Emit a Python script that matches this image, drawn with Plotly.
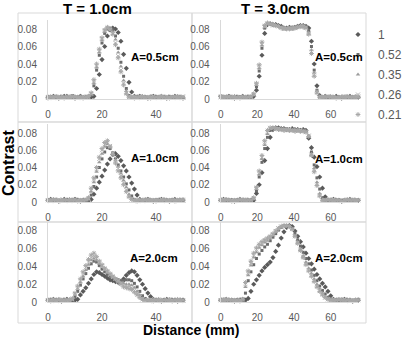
import plotly.graph_objects as go

# ---------------- data ----------------
series_names = ["1", "0.52", "0.35", "0.26", "0.21"]
col_titles = ["T = 1.0cm", "T = 3.0cm"]
row_labels = ["A=0.5cm", "A=1.0cm", "A=2.0cm"]
y_tickvals = [0, 0.02, 0.04, 0.06, 0.08]
y_ticktext = ["0", "0.02", "0.04", "0.06", "0.08"]
x_ticks_left = [0, 20, 40]
x_ticks_right = [0, 20, 40, 60]

dist_left = [0,1,2,3,4,5,6,7,8,9,10,11,12,13,14,15,16,17,18,19,20,21,22,23,24,25,
             26,27,28,29,30,31,32,33,34,35,36,37,38,39,40,41,42,43,44,45,46,47,48,49,50]
dist_right = [0,1.5,3,4.5,6,7.5,9,10.5,12,13.5,15,16.5,18,19.5,21,22.5,24,25.5,27,28.5,
              30,31.5,33,34.5,36,37.5,39,40.5,42,43.5,45,46.5,48,49.5,51,52.5,54,55.5,57,
              58.5,60,61.5,63,64.5,66,67.5,69,70.5,72,73.5,75]

# T = 1.0cm, A = 0.5cm
t1a05_d = [0.002,0.002,0.003,0.002,0.001,0.002,0.003,0.003,0.002,0.002,0.001,0.002,0.003,0.002,0.002,0.003,0.002,
 0.003,0.012,0.028,0.045,0.060,0.072,0.079,0.081,0.080,0.076,0.066,0.051,0.035,0.019,0.008,0.003,
 0.002,0.003,0.002,0.002,0.001,0.002,0.003,0.002,0.002,0.003,0.002,0.001,0.002,0.002,0.003,0.002,0.002,0.001]
t1a05_s = [0.003,0.002,0.002,0.001,0.002,0.003,0.002,0.002,0.003,0.004,0.002,0.002,0.003,0.002,0.001,0.002,
 0.004,0.015,0.033,0.050,0.064,0.075,0.080,0.081,0.079,0.072,0.058,0.042,0.026,0.012,0.004,
 0.002,0.002,0.003,0.002,0.001,0.002,0.002,0.003,0.002,0.003,0.002,0.002,0.001,0.002,0.003,0.002,0.002,0.003,0.002,0.002]
t1a05_t = [0.002,0.003,0.002,0.002,0.001,0.002,0.002,0.003,0.002,0.002,0.003,0.002,0.001,0.002,0.002,0.003,
 0.005,0.018,0.036,0.053,0.067,0.077,0.081,0.080,0.077,0.068,0.053,0.037,0.021,0.009,0.003,
 0.002,0.003,0.002,0.002,0.002,0.001,0.002,0.003,0.002,0.002,0.002,0.003,0.002,0.001,0.002,0.002,0.003,0.002,0.002,0.002]
t1a05_x = [0.002,0.002,0.001,0.002,0.003,0.002,0.002,0.002,0.003,0.002,0.002,0.001,0.002,0.003,0.002,0.002,
 0.006,0.020,0.038,0.055,0.069,0.078,0.081,0.079,0.075,0.064,0.049,0.033,0.018,0.007,0.002,
 0.002,0.002,0.001,0.003,0.002,0.002,0.002,0.002,0.003,0.002,0.001,0.002,0.002,0.003,0.002,0.002,0.002,0.001,0.002,0.003]
t1a05_a = [0.001,0.002,0.002,0.003,0.002,0.002,0.001,0.002,0.002,0.003,0.002,0.002,0.002,0.001,0.002,0.003,
 0.007,0.022,0.040,0.057,0.070,0.079,0.082,0.080,0.074,0.062,0.047,0.031,0.016,0.006,0.002,
 0.002,0.001,0.002,0.002,0.003,0.002,0.002,0.001,0.002,0.002,0.002,0.003,0.002,0.002,0.001,0.002,0.002,0.003,0.002,0.002]

# T = 1.0cm, A = 1.0cm
t1a10_d = [0.002,0.003,0.002,0.002,0.001,0.002,0.003,0.002,0.002,0.002,0.003,0.002,0.001,0.002,0.002,0.002,
 0.003,0.009,0.016,0.023,0.030,0.037,0.044,0.050,0.055,0.056,0.053,0.048,0.042,0.036,0.029,0.022,0.015,0.008,0.003,
 0.002,0.002,0.003,0.002,0.001,0.002,0.002,0.003,0.002,0.002,0.001,0.002,0.003,0.002,0.002,0.002]
t1a10_s = [0.002,0.002,0.003,0.002,0.002,0.001,0.002,0.003,0.002,0.002,0.002,0.003,0.002,0.001,0.002,
 0.002,0.008,0.018,0.029,0.040,0.050,0.058,0.063,0.062,0.057,0.050,0.043,0.036,0.029,0.021,0.014,0.007,0.003,
 0.002,0.002,0.001,0.002,0.003,0.002,0.002,0.002,0.003,0.002,0.001,0.002,0.002,0.003,0.002,0.002,0.002,0.001]
t1a10_t = [0.002,0.002,0.002,0.003,0.002,0.001,0.002,0.002,0.003,0.002,0.002,0.002,0.001,0.002,0.003,
 0.003,0.012,0.023,0.035,0.046,0.056,0.064,0.067,0.064,0.057,0.049,0.041,0.033,0.025,0.017,0.009,0.004,
 0.002,0.002,0.003,0.002,0.002,0.001,0.002,0.002,0.003,0.002,0.002,0.002,0.001,0.002,0.002,0.003,0.002,0.002,0.002]
t1a10_x = [0.002,0.001,0.002,0.002,0.003,0.002,0.002,0.002,0.001,0.002,0.003,0.002,0.002,0.002,0.003,
 0.004,0.014,0.026,0.038,0.050,0.060,0.067,0.069,0.065,0.057,0.048,0.039,0.030,0.022,0.014,0.007,0.003,
 0.002,0.002,0.002,0.001,0.002,0.003,0.002,0.002,0.002,0.002,0.003,0.002,0.001,0.002,0.002,0.002,0.003,0.002,0.002]
t1a10_a = [0.002,0.002,0.003,0.002,0.001,0.002,0.002,0.002,0.003,0.002,0.002,0.001,0.002,0.002,0.002,
 0.005,0.016,0.028,0.040,0.052,0.062,0.069,0.071,0.064,0.055,0.045,0.036,0.028,0.020,0.012,0.006,0.003,
 0.002,0.001,0.002,0.002,0.003,0.002,0.002,0.002,0.001,0.002,0.002,0.003,0.002,0.002,0.002,0.001,0.002,0.002,0.003]

# T = 1.0cm, A = 2.0cm
t1a20_d = [0.002,0.002,0.003,0.002,0.002,0.001,0.002,0.003,0.002,0.002,0.002,
 0.003,0.008,0.012,0.016,0.021,0.026,0.031,0.034,0.033,0.031,0.029,0.027,0.025,0.024,0.023,0.022,0.023,0.026,0.030,0.033,0.035,0.034,0.030,0.025,0.020,0.015,0.010,0.006,0.003,
 0.002,0.002,0.001,0.002,0.003,0.002,0.002,0.002,0.001,0.002,0.002]
t1a20_s = [0.002,0.003,0.002,0.002,0.001,0.002,0.002,0.003,0.002,
 0.002,0.006,0.012,0.019,0.026,0.032,0.038,0.043,0.046,0.045,0.041,0.037,0.034,0.031,0.029,0.027,0.026,0.025,0.024,0.024,0.025,0.025,0.024,0.021,0.017,0.012,0.007,0.004,0.002,
 0.002,0.003,0.002,0.002,0.001,0.002,0.002,0.003,0.002,0.002,0.002,0.001,0.002]
t1a20_t = [0.002,0.002,0.003,0.002,0.002,0.002,0.001,0.002,0.003,
 0.003,0.008,0.015,0.022,0.029,0.036,0.042,0.047,0.049,0.047,0.043,0.040,0.036,0.033,0.030,0.028,0.026,0.024,0.022,0.021,0.020,0.020,0.019,0.016,0.012,0.008,0.004,0.002,
 0.002,0.002,0.003,0.002,0.001,0.002,0.002,0.002,0.003,0.002,0.002,0.001,0.002,0.002]
t1a20_x = [0.002,0.002,0.002,0.001,0.002,0.003,0.002,0.002,0.002,
 0.003,0.009,0.016,0.024,0.032,0.039,0.045,0.050,0.052,0.049,0.045,0.041,0.037,0.034,0.031,0.028,0.026,0.024,0.021,0.019,0.018,0.018,0.016,0.013,0.010,0.006,0.003,0.002,
 0.002,0.003,0.002,0.002,0.002,0.001,0.002,0.002,0.003,0.002,0.002,0.002,0.001,0.002]
t1a20_a = [0.002,0.001,0.002,0.002,0.003,0.002,0.002,0.002,0.002,
 0.004,0.010,0.018,0.026,0.034,0.041,0.048,0.053,0.055,0.051,0.046,0.042,0.038,0.035,0.032,0.029,0.026,0.023,0.020,0.017,0.016,0.015,0.014,0.011,0.008,0.005,0.003,0.002,
 0.002,0.002,0.001,0.002,0.003,0.002,0.002,0.002,0.002,0.001,0.002,0.003,0.002,0.002]

# T = 3.0cm, A = 0.5cm
t3a05_d = [0.003,0.002,0.002,0.003,0.002,0.001,0.002,0.002,0.003,0.002,0.002,0.002,
 0.003,0.010,0.026,0.050,0.075,0.085,0.086,0.085,0.085,0.084,0.083,0.081,0.081,0.082,0.081,0.082,0.083,0.084,0.084,0.083,0.081,0.066,0.040,0.015,0.004,
 0.002,0.003,0.002,0.002,0.002,0.003,0.002,0.001,0.002,0.002,0.003,0.002,0.002,0.002]
t3a05_s = [0.002,0.003,0.002,0.002,0.001,0.002,0.003,0.002,0.002,0.002,0.003,0.002,
 0.004,0.014,0.032,0.058,0.081,0.086,0.086,0.085,0.084,0.084,0.082,0.081,0.081,0.081,0.082,0.082,0.083,0.084,0.083,0.083,0.078,0.060,0.033,0.010,0.003,
 0.002,0.002,0.003,0.002,0.002,0.001,0.002,0.002,0.003,0.002,0.002,0.002,0.003,0.002]
t3a05_t = [0.002,0.002,0.003,0.002,0.002,0.002,0.001,0.002,0.003,0.002,0.002,0.002,
 0.005,0.016,0.035,0.061,0.082,0.086,0.085,0.085,0.084,0.083,0.082,0.081,0.080,0.081,0.081,0.082,0.083,0.083,0.084,0.082,0.076,0.056,0.030,0.009,0.003,
 0.002,0.003,0.002,0.002,0.001,0.002,0.002,0.003,0.002,0.002,0.002,0.002,0.003,0.002]
t3a05_x = [0.002,0.002,0.002,0.003,0.002,0.001,0.002,0.002,0.002,0.003,0.002,0.002,
 0.005,0.017,0.037,0.063,0.083,0.086,0.086,0.084,0.084,0.083,0.082,0.080,0.081,0.081,0.080,0.081,0.082,0.083,0.083,0.082,0.075,0.054,0.028,0.008,0.002,
 0.002,0.002,0.003,0.002,0.002,0.002,0.001,0.002,0.003,0.002,0.002,0.002,0.002,0.003]
t3a05_a = [0.003,0.002,0.002,0.002,0.002,0.003,0.002,0.001,0.002,0.002,0.002,0.003,
 0.006,0.018,0.039,0.065,0.084,0.087,0.086,0.085,0.084,0.083,0.081,0.081,0.080,0.080,0.081,0.081,0.082,0.083,0.082,0.081,0.074,0.052,0.026,0.007,0.002,
 0.002,0.002,0.002,0.003,0.002,0.001,0.002,0.002,0.002,0.003,0.002,0.002,0.002,0.002]

# T = 3.0cm, A = 1.0cm
t3a10_d = [0.002,0.003,0.002,0.002,0.002,0.001,0.002,0.003,0.002,0.002,0.002,0.002,
 0.002,0.010,0.020,0.034,0.048,0.062,0.075,0.084,0.086,0.086,0.085,0.085,0.084,0.084,0.085,0.084,0.084,0.083,0.084,0.083,0.074,0.063,0.052,0.041,0.029,0.016,0.006,0.002,
 0.002,0.003,0.002,0.002,0.001,0.002,0.002,0.003,0.002,0.002,0.002]
t3a10_s = [0.002,0.002,0.003,0.002,0.002,0.002,0.001,0.002,0.002,0.003,0.002,0.002,
 0.003,0.013,0.029,0.046,0.062,0.075,0.083,0.086,0.086,0.085,0.085,0.084,0.085,0.084,0.084,0.083,0.084,0.083,0.083,0.082,0.076,0.058,0.043,0.028,0.015,0.005,0.002,
 0.002,0.002,0.003,0.002,0.002,0.001,0.002,0.002,0.002,0.003,0.002,0.002]
t3a10_t = [0.002,0.002,0.002,0.003,0.002,0.002,0.001,0.002,0.003,0.002,0.002,0.002,
 0.004,0.015,0.032,0.050,0.066,0.079,0.085,0.086,0.086,0.085,0.084,0.085,0.084,0.084,0.083,0.084,0.083,0.083,0.082,0.082,0.077,0.056,0.039,0.023,0.010,0.003,
 0.002,0.002,0.003,0.002,0.002,0.002,0.001,0.002,0.002,0.003,0.002,0.002,0.002]
t3a10_x = [0.002,0.003,0.002,0.002,0.002,0.001,0.002,0.002,0.002,0.003,0.002,0.002,
 0.004,0.016,0.034,0.052,0.069,0.081,0.086,0.086,0.085,0.085,0.084,0.084,0.083,0.084,0.083,0.083,0.082,0.083,0.082,0.081,0.077,0.055,0.037,0.021,0.008,0.002,
 0.002,0.002,0.002,0.003,0.002,0.002,0.001,0.002,0.002,0.002,0.003,0.002,0.002]
t3a10_a = [0.002,0.002,0.003,0.002,0.001,0.002,0.002,0.003,0.002,0.002,0.002,0.002,
 0.005,0.017,0.036,0.054,0.071,0.083,0.086,0.086,0.085,0.084,0.084,0.083,0.084,0.083,0.083,0.082,0.083,0.082,0.082,0.081,0.076,0.054,0.035,0.019,0.007,0.002,
 0.002,0.003,0.002,0.002,0.002,0.002,0.001,0.002,0.003,0.002,0.002,0.002,0.002]

# T = 3.0cm, A = 2.0cm
t3a20_d = [0.002,0.002,0.003,0.002,0.002,0.001,0.002,0.002,0.003,0.002,
 0.004,0.012,0.020,0.025,0.030,0.035,0.039,0.042,0.045,0.050,0.057,0.064,0.072,0.079,0.084,0.086,0.085,0.080,0.074,0.068,0.062,0.055,0.049,0.043,0.037,0.031,0.026,0.021,0.017,0.012,0.007,0.003,
 0.002,0.002,0.002,0.003,0.002,0.002,0.001,0.002,0.002]
t3a20_s = [0.002,0.003,0.002,0.002,0.001,0.002,0.002,0.003,
 0.002,0.010,0.024,0.034,0.042,0.049,0.054,0.058,0.062,0.065,0.069,0.073,0.077,0.081,0.084,0.086,0.086,0.085,0.083,0.077,0.070,0.063,0.056,0.049,0.043,0.036,0.030,0.024,0.018,0.013,0.009,0.005,0.003,0.002,
 0.002,0.003,0.002,0.002,0.002,0.001,0.002,0.002,0.003]
t3a20_t = [0.002,0.002,0.002,0.003,0.002,0.002,0.001,0.002,
 0.003,0.017,0.030,0.041,0.050,0.056,0.061,0.064,0.067,0.069,0.072,0.075,0.079,0.082,0.085,0.086,0.086,0.085,0.082,0.075,0.068,0.060,0.052,0.045,0.038,0.032,0.026,0.020,0.015,0.010,0.006,0.004,0.002,0.002,
 0.002,0.002,0.003,0.002,0.002,0.002,0.001,0.002,0.002]
t3a20_x = [0.002,0.003,0.002,0.002,0.002,0.001,0.002,0.002,
 0.003,0.020,0.033,0.044,0.053,0.059,0.063,0.066,0.069,0.071,0.073,0.076,0.080,0.083,0.085,0.086,0.086,0.085,0.082,0.074,0.067,0.059,0.051,0.043,0.036,0.030,0.024,0.018,0.013,0.009,0.005,0.003,0.002,0.002,
 0.002,0.002,0.002,0.003,0.002,0.001,0.002,0.002,0.002]
t3a20_a = [0.002,0.002,0.003,0.002,0.002,0.002,0.002,0.001,
 0.003,0.022,0.035,0.046,0.055,0.061,0.065,0.068,0.070,0.072,0.074,0.077,0.080,0.083,0.085,0.086,0.086,0.085,0.082,0.074,0.066,0.058,0.050,0.042,0.035,0.029,0.023,0.017,0.012,0.008,0.005,0.003,0.002,0.002,
 0.002,0.003,0.002,0.002,0.002,0.002,0.001,0.002,0.002]

panels = [
    (0, 0, dist_left,  [t1a05_d, t1a05_s, t1a05_t, t1a05_x, t1a05_a]),
    (0, 1, dist_right, [t3a05_d, t3a05_s, t3a05_t, t3a05_x, t3a05_a]),
    (1, 0, dist_left,  [t1a10_d, t1a10_s, t1a10_t, t1a10_x, t1a10_a]),
    (1, 1, dist_right, [t3a10_d, t3a10_s, t3a10_t, t3a10_x, t3a10_a]),
    (2, 0, dist_left,  [t1a20_d, t1a20_s, t1a20_t, t1a20_x, t1a20_a]),
    (2, 1, dist_right, [t3a20_d, t3a20_s, t3a20_t, t3a20_x, t3a20_a]),
]
for _, _, xs, ss in panels:
    for s in ss:
        assert len(s) == len(xs), (len(s), len(xs))

# ---------------- styling ----------------
W, H = 415, 339
def px(p): return p / W
def py(p): return 1 - p / H

FONT = "Liberation Sans, Arial, sans-serif"
TICK_COLOR = "#595959"
BORDER = "#d9d9d9"

styles = [
    dict(symbol="diamond", size=4, color="#5a5a5a"),
    dict(symbol="square", size=3, color="#6c6c6c"),
    dict(symbol="triangle-up", size=4, color="#9c9c9c"),
    dict(symbol="x-thin", size=4, color="#b4b4b4", line=dict(width=1, color="#b4b4b4")),
    dict(symbol="asterisk", size=4, color="#a8a8a8", line=dict(width=1, color="#a8a8a8")),
]

col_dom = [(48, 185.7), (220.7, 358.2)]
col_rng = [[0, 51], [0, 75]]
row_dom = [(20.25, 99), (124.4, 202), (222.1, 302)]

fig = go.Figure()
layout = dict(
    width=W, height=H, margin=dict(l=0, r=0, t=0, b=0, autoexpand=False),
    paper_bgcolor="white", plot_bgcolor="white",
    font=dict(family=FONT, color=TICK_COLOR, size=10),
    showlegend=True,
    legend=dict(x=px(338), y=py(20), xanchor="left", yanchor="top",
                font=dict(size=12, color=TICK_COLOR, family=FONT),
                tracegroupgap=1, itemsizing="trace", bgcolor="rgba(0,0,0,0)"),
)

shapes = []
annotations = []
for k, (r, c, xs, ss) in enumerate(panels):
    n = k + 1
    xa = "x" if n == 1 else f"x{n}"
    ya = "y" if n == 1 else f"y{n}"
    xd = col_dom[c]
    yd = row_dom[r]
    layout[f"xaxis{'' if n == 1 else n}"] = dict(
        domain=[px(xd[0]), px(xd[1])], range=col_rng[c], anchor=ya,
        tickvals=x_ticks_left if c == 0 else x_ticks_right,
        ticks="outside", ticklen=6, tickcolor="rgba(0,0,0,0)",
        showgrid=False, zeroline=False, showline=True, linecolor=BORDER, linewidth=1,
        tickfont=dict(size=10, color=TICK_COLOR, family=FONT), fixedrange=True, automargin=False)
    layout[f"yaxis{'' if n == 1 else n}"] = dict(
        domain=[py(yd[1]), py(yd[0])], range=[0, 0.09], anchor=xa,
        tickvals=y_tickvals, ticktext=y_ticktext,
        ticks="outside", ticklen=8, tickcolor="rgba(0,0,0,0)",
        showgrid=False, zeroline=False, showline=True, linecolor=BORDER, linewidth=1,
        tickfont=dict(size=10, color=TICK_COLOR, family=FONT), fixedrange=True, automargin=False)
    for i, s in enumerate(ss):
        st = styles[i]
        fig.add_trace(go.Scatter(
            x=xs, y=s, mode="markers", name=series_names[i],
            legendgroup=series_names[i], showlegend=(k == 0),
            marker=st, xaxis=xa, yaxis=ya, cliponaxis=False))

# panel boxes
box_cols = [(18, 192), (192, 366)]
box_rows = [(13, 122), (122, 222), (222, 323)]
for (x0, x1) in box_cols:
    for (y0, y1) in box_rows:
        shapes.append(dict(type="rect", xref="paper", yref="paper",
                           x0=px(x0), x1=px(x1), y0=py(y1), y1=py(y0),
                           line=dict(color=BORDER, width=1), fillcolor="rgba(0,0,0,0)", layer="below"))

def ann(text, x, y, size, angle=0):
    annotations.append(dict(text=text, x=px(x), y=py(y), xref="paper", yref="paper",
                            xanchor="center", yanchor="middle", showarrow=False, textangle=angle,
                            font=dict(size=size, color="black", family=FONT)))

ann("<b>" + col_titles[0] + "</b>", 97, 8, 15)
ann("<b>" + col_titles[1] + "</b>", 275, 8, 15)
ann("<b>Distance (mm)</b>", 191, 330, 14)
ann("<b>Contrast</b>", 8, 163, 16, -90)

label_pos = [((155, 57), (339, 57)), ((155, 158), (339, 159)), ((154, 258), (339, 258))]
for r in range(3):
    for c in range(2):
        x0, y0 = label_pos[r][c]
        ann("<b>" + row_labels[r] + "</b>", x0, y0, 11.5)

layout["shapes"] = shapes
layout["annotations"] = annotations
fig.update_layout(**layout)
fig.write_html("out.html", config={"displayModeBar": False},
               post_script="document.body.style.margin='0';document.body.style.overflow='hidden';")
